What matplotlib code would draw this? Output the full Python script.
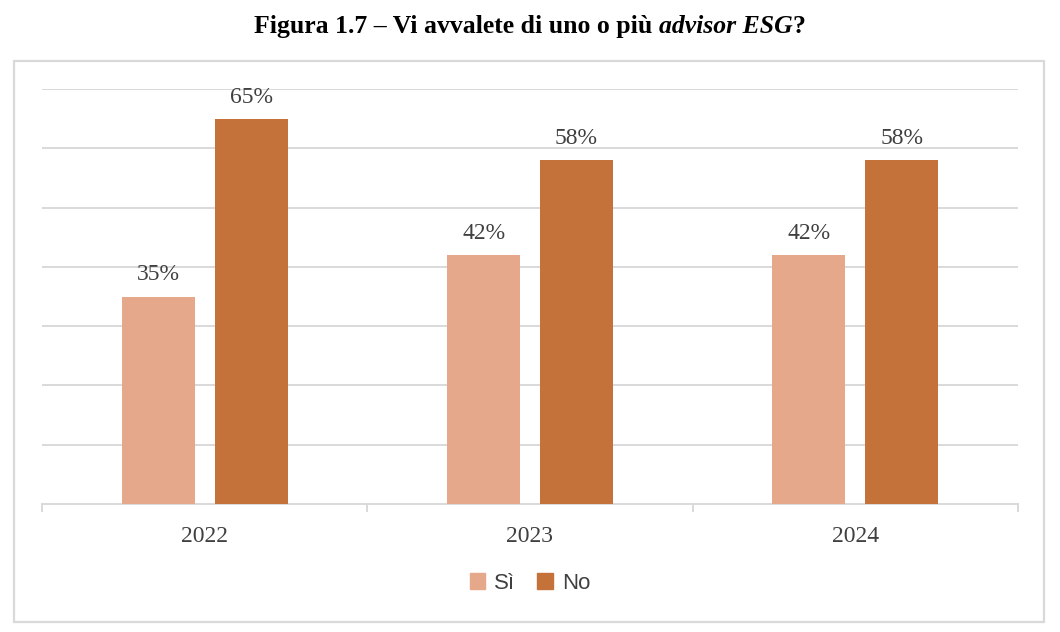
import matplotlib
matplotlib.use('Agg')
import matplotlib.pyplot as plt
from matplotlib.patches import Rectangle, Patch
import numpy as np

years = ['2022', '2023', '2024']
si = [35, 42, 42]
no = [65, 58, 58]

col_si = '#E6A88A'
col_no = '#C5713A'
grid_col = '#D9D9D9'
txt_col = '#404040'

fig = plt.figure(figsize=(10.6, 6.32), dpi=100)

# cornice grigia attorno al grafico
fig.patches.append(Rectangle((0.0132, 0.0158), 0.9717, 0.8877, transform=fig.transFigure,
                             fill=False, edgecolor=grid_col, linewidth=1.6))

ax = fig.add_axes([0.0396, 0.2025, 0.9208, 0.6567])
x = np.arange(len(years))
w = 0.2244
off = 0.1425
b1 = ax.bar(x - off, si, w, color=col_si, label='Sì', zorder=3)
b2 = ax.bar(x + off, no, w, color=col_no, label='No', zorder=3)

for bars, vals in [(b1, si), (b2, no)]:
    for b, v in zip(bars, vals):
        ax.annotate(f'{v}%', (b.get_x() + b.get_width() / 2, v), xytext=(0, 8),
                    textcoords='offset points', ha='center', va='bottom',
                    fontsize=17, family='Liberation Serif', color=txt_col)

ax.set_ylim(0, 70)
ax.set_xlim(-0.5, 2.5)
ax.set_yticks(np.arange(10, 71, 10))
ax.yaxis.grid(True, color=grid_col, linewidth=1.4, zorder=0)
ax.tick_params(axis='y', length=0, labelleft=False)
ax.set_xticks([-0.5, 0.5, 1.5, 2.5])
ax.set_xticklabels([])
ax.tick_params(axis='x', which='major', length=6, width=1.4, color=grid_col)
ax.set_xticks(x, minor=True)
ax.set_xticklabels(years, minor=True, fontsize=17, family='Liberation Serif', color=txt_col)
ax.tick_params(axis='x', which='minor', length=0, pad=16)
for s in ['top', 'right', 'left']:
    ax.spines[s].set_visible(False)
ax.spines['bottom'].set_color(grid_col)
ax.spines['bottom'].set_linewidth(1.4)
ax.set_facecolor('none')

handles = [Patch(color=col_si, label='Sì'), Patch(color=col_no, label='No')]
fig.legend(handles=handles, loc='center', bbox_to_anchor=(0.5, 0.0775), ncol=2, frameon=False,
           prop={'family': 'Liberation Sans', 'size': 16}, handlelength=0.7, handleheight=0.7,
           handletextpad=0.4, columnspacing=1.0, labelcolor=txt_col)

# titolo con parte in corsivo
parts = [('Figura 1.7 – Vi avvalete di uno o più ', 'normal'), ('advisor ESG', 'italic'), ('?', 'normal')]
fig.canvas.draw()
r = fig.canvas.get_renderer()
texts = []
for s, st in parts:
    t = fig.text(0, 0.958, s, fontsize=18.5, weight='bold', style=st, family='Liberation Serif',
                 ha='left', va='center', color='black')
    texts.append(t)
widths = [t.get_window_extent(renderer=r).width for t in texts]
total = sum(widths)
xpos = 530 - total / 2
for t, wd in zip(texts, widths):
    t.set_x(xpos / 1060)
    xpos += wd

fig.savefig('out.png', dpi=100)
